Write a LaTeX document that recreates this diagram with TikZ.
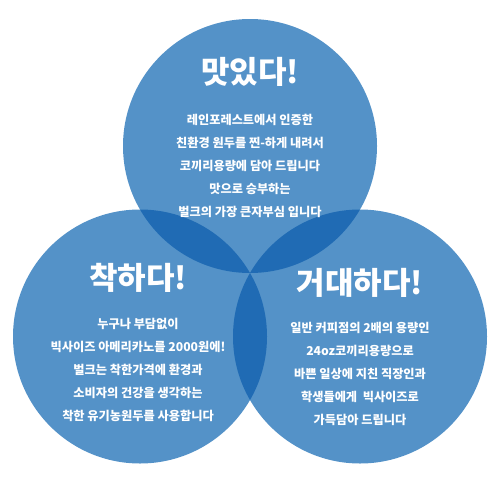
\documentclass[tikz,border=0pt]{standalone}
\usepackage{fontspec}
\newfontfamily\kr{Noto Sans CJK KR}
\definecolor{lightb}{HTML}{5492C8}
\definecolor{darkb}{HTML}{206BB4}
\begin{document}
\begin{tikzpicture}[x=1pt,y=-1pt,
  bubble/.style={circle,fill=lightb,minimum size=254pt,inner sep=0pt},
  title/.style={text=white,font=\kr\bfseries\fontsize{31}{31}\selectfont,inner sep=0pt},
  body/.style={text=white,font=\kr\bfseries\fontsize{12.2}{23}\selectfont,align=center,inner sep=0pt}]
\useasboundingbox (0,0) rectangle (500,479);
\node[bubble] (ctop) at (250,146) {};
\node[bubble] (cleft) at (140,336.5) {};
\node[bubble] (cright) at (360,336.5) {};
\begin{scope}
  \clip (ctop.center) circle (127pt);
  \fill[darkb] (cleft.center) circle (127pt);
  \fill[darkb] (cright.center) circle (127pt);
\end{scope}
\begin{scope}
  \clip (cleft.center) circle (127pt);
  \fill[darkb] (cright.center) circle (127pt);
\end{scope}
\node[title] (ttop) at (250,72) {맛있다!};
\node[title] (tleft) at (138,278) {착하다!};
\node[title] (tright) at (360,283) {거대하다!};
\node[body] (btop) at (250,166) {레인포레스트에서 인증한\\친환경 원두를 찐-하게 내려서\\코끼리용량에 담아 드립니다\\맛으로 승부하는\\벌크의 가장 큰자부심 입니다};
\node[body] (bleft) at (138,370) {누구나 부담없이\\빅사이즈 아메리카노를 2000원에!\\벌크는 착한가격에 환경과\\소비자의 건강을 생각하는\\착한 유기농원두를 사용합니다};
\node[body] (bright) at (360,374) {일반 커피점의 2배의 용량인\\24oz코끼리용량으로\\바쁜 일상에 지친 직장인과\\학생들에게 \ 빅사이즈로\\가득담아 드립니다};
\end{tikzpicture}
\end{document}
